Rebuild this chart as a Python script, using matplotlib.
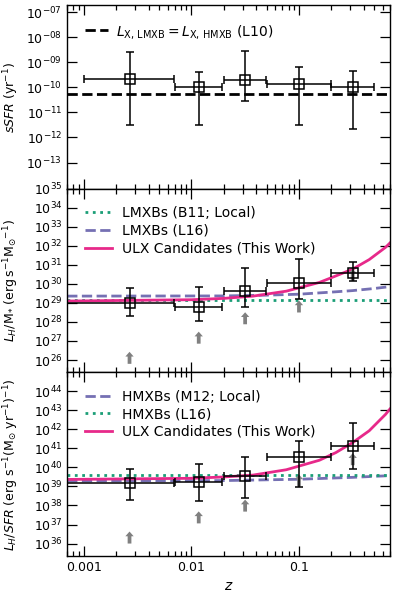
import numpy as np
import matplotlib
matplotlib.use("Agg")
import matplotlib.pyplot as plt
from matplotlib.ticker import FixedLocator, FuncFormatter, NullLocator

# ---------------- data ----------------
z_center = [0.00266, 0.0117, 0.0316, 0.1, 0.316]
z_low_top = [0.001, 0.007, 0.02, 0.05, 0.2]
z_low = [0.0005, 0.007, 0.02, 0.05, 0.2]
z_high = [0.0069, 0.0194, 0.049, 0.2, 0.5]

ssfr = [2.2e-10, 1.05e-10, 2.0e-10, 1.3e-10, 1.05e-10]
ssfr_low = [3.1e-12, 3.1e-12, 2.8e-11, 3.1e-12, 2.2e-12]
ssfr_high = [2.6e-9, 4.1e-10, 2.8e-9, 6.4e-10, 4.5e-10]
ssfr_equal = 5.5e-11

lm = [9.8e28, 6.5e28, 4.2e29, 1.07e30, 3.8e30]
lm_low = [2.1e28, 1.1e28, 6.0e28, 1.7e29, 1.35e30]
lm_high = [6.0e29, 7.0e29, 6.6e30, 2.0e31, 1.5e31]
lm_limit_log = [26.43, 27.49, 28.51, 29.13, 30.80]

lsfr = [1.48e39, 1.62e39, 3.55e39, 3.7e40, 1.35e41]
lsfr_low = [1.9e38, 1.66e38, 2.5e38, 9.5e38, 8.7e39]
lsfr_high = [8.7e39, 1.6e40, 3.4e40, 2.5e41, 2.1e42]
lsfr_limit_log = [36.63, 37.69, 38.31, 39.63, 40.75]

# model curves (log10 values)
lmxb_b11_log = 29.18
lmxb_l16_z = [0.0007, 0.02, 0.05, 0.1, 0.2, 0.316, 0.5, 0.7]
lmxb_l16_log = [29.36, 29.37, 29.41, 29.46, 29.57, 29.65, 29.76, 29.86]
ulx_m_z = [0.0007, 0.01, 0.02, 0.0375, 0.0763, 0.155, 0.22, 0.316, 0.45, 0.64, 0.7]
ulx_m_log = [29.10, 29.17, 29.24, 29.36, 29.62, 30.08, 30.42, 30.78, 31.28, 31.93, 32.15]

hmxb_m12_z = [0.0007, 0.02, 0.1, 0.316, 0.7]
hmxb_m12_log = [39.29, 39.31, 39.38, 39.48, 39.57]
hmxb_l16_log = 39.58
ulx_s_z = [0.0007, 0.01, 0.02, 0.0375, 0.0763, 0.155, 0.22, 0.316, 0.45, 0.64, 0.7]
ulx_s_log = [39.37, 39.43, 39.50, 39.60, 39.88, 40.38, 40.78, 41.31, 41.93, 42.80, 43.07]

xticks = [0.001, 0.01, 0.1]
xticklabels = ["0.001", "0.01", "0.1"]

# ---------------- style ----------------
GREEN = "#1b9e77"
PURPLE = "#7570b3"
PINK = "#e7298a"
GREY = "#808080"
FS = 9
LFS = 10

plt.rcParams["font.family"] = ["DejaVu Sans"]
plt.rcParams["mathtext.fontset"] = "dejavusans"

fig, axes = plt.subplots(3, 1, figsize=(3.95, 5.92), dpi=100, sharex=True)
fig.subplots_adjust(left=0.170, right=0.987, top=0.991, bottom=0.061, hspace=0)
ax1, ax2, ax3 = axes
for ax in axes:
    ax.set_xscale("log")
    ax.set_yscale("log")


def errs(c, lo, hi):
    c = np.asarray(c, dtype=float)
    return [c - np.asarray(lo, dtype=float), np.asarray(hi, dtype=float) - c]


eb_kw = dict(fmt="s", mfc="none", mec="k", mew=1.1, ms=7, ecolor="k",
             elinewidth=1.1, capsize=3, capthick=1.1, color="k", zorder=4)


def arrows(ax, xs, tips_log):
    for x, t in zip(xs, tips_log):
        ax.annotate("", xy=(x, 10.0 ** t), xycoords="data",
                    xytext=(0, -12), textcoords="offset pixels",
                    arrowprops=dict(width=2.7, headwidth=6.0, headlength=3.4,
                                    facecolor=GREY, edgecolor="none", shrink=0),
                    zorder=3)


def logfmt(v, p):
    return r"$10^{%d}$" % round(np.log10(v))


leg_kw = dict(loc="upper left", frameon=False, fontsize=LFS, handlelength=2.0,
              borderaxespad=0.85, labelspacing=0.26, handletextpad=0.7)

# --- top panel ---
ax1.axhline(ssfr_equal, color="k", ls="--", lw=2,
            label=r"$L_{\rm X,\,LMXB} = L_{\rm X,\,HMXB}$ (L10)")
ax1.errorbar(z_center, ssfr, xerr=errs(z_center, z_low_top, z_high),
             yerr=errs(ssfr, ssfr_low, ssfr_high), **eb_kw)
ax1.set_ylim(10.0 ** -14.05, 10.0 ** -6.73)
ax1.set_ylabel(r"$sSFR$ (yr$^{-1}$)", fontsize=FS)
ax1.legend(loc="upper left", frameon=False, fontsize=LFS, handlelength=1.7,
           borderaxespad=0.85, handletextpad=0.6)
ax1.yaxis.set_major_locator(FixedLocator([10.0 ** e for e in range(-13, -6)]))
ax1.yaxis.set_major_formatter(FuncFormatter(
    lambda v, p: r"$10^{-%02d}$" % round(-np.log10(v))))

# --- middle panel ---
ax2.axhline(10.0 ** lmxb_b11_log, color=GREEN, ls=":", lw=2, label="LMXBs (B11; Local)")
ax2.plot(lmxb_l16_z, 10.0 ** np.array(lmxb_l16_log), color=PURPLE, ls="--", lw=2,
         label="LMXBs (L16)")
ax2.plot(ulx_m_z, 10.0 ** np.array(ulx_m_log), color=PINK, ls="-", lw=2,
         label="ULX Candidates (This Work)")
arrows(ax2, z_center, lm_limit_log)
ax2.errorbar(z_center, lm, xerr=errs(z_center, z_low, z_high),
             yerr=errs(lm, lm_low, lm_high), **eb_kw)
ax2.set_ylim(10.0 ** 25.35, 10.0 ** 35)
ax2.set_ylabel(r"$L_H/{\rm M}_{*}$ (erg$\,$s$^{-1}$M$_{\odot}$$^{-1}$)", fontsize=FS)
ax2.legend(**leg_kw)
ax2.yaxis.set_major_locator(FixedLocator([10.0 ** e for e in range(26, 36)]))
ax2.yaxis.set_major_formatter(FuncFormatter(logfmt))

# --- bottom panel ---
ax3.plot(hmxb_m12_z, 10.0 ** np.array(hmxb_m12_log), color=PURPLE, ls="--", lw=2,
         label="HMXBs (M12; Local)")
ax3.axhline(10.0 ** hmxb_l16_log, color=GREEN, ls=":", lw=2, label="HMXBs (L16)")
ax3.plot(ulx_s_z, 10.0 ** np.array(ulx_s_log), color=PINK, ls="-", lw=2,
         label="ULX Candidates (This Work)")
arrows(ax3, z_center, lsfr_limit_log)
ax3.errorbar(z_center, lsfr, xerr=errs(z_center, z_low, z_high),
             yerr=errs(lsfr, lsfr_low, lsfr_high), **eb_kw)
ax3.set_ylim(10.0 ** 35.35, 10.0 ** 45.0)
ax3.set_ylabel(r"$L_H/SFR$ (erg s$^{-1}$(M$_{\odot}$ yr$^{-1}$)$^{-1}$)", fontsize=FS)
ax3.legend(**leg_kw)
ax3.yaxis.set_major_locator(FixedLocator([10.0 ** e for e in range(36, 45)]))
ax3.yaxis.set_major_formatter(FuncFormatter(logfmt))
ax3.set_xlabel(r"$z$", fontsize=FS + 1)

for ax in axes:
    ax.yaxis.set_minor_locator(NullLocator())
    ax.tick_params(which="both", direction="in", top=True, right=True,
                   labelsize=FS)
    ax.tick_params(which="major", length=7, width=0.9)
    ax.tick_params(which="minor", length=3.5, width=0.9)
    for s in ax.spines.values():
        s.set_linewidth(1.0)

ax3.set_xlim(0.0007, 0.7)
ax3.set_xticks(xticks)
ax3.set_xticklabels(xticklabels)

fig.align_ylabels(axes)
fig.savefig("out.png", dpi=100)
